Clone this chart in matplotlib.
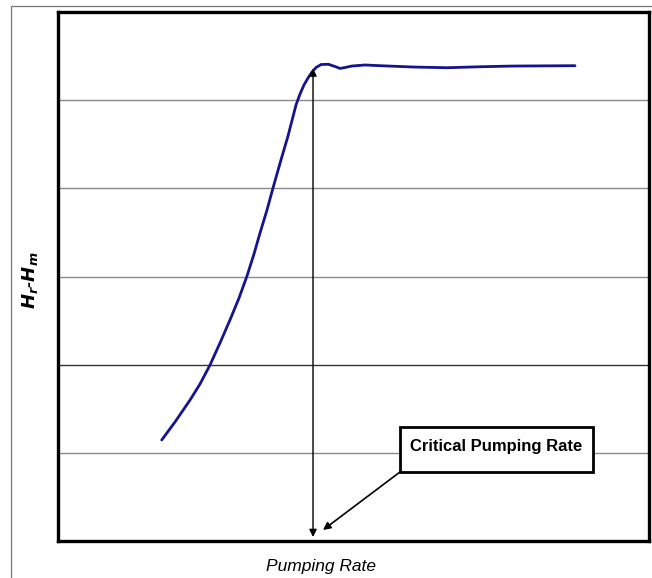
import matplotlib
matplotlib.use("Agg")
import matplotlib.pyplot as plt
from matplotlib.patches import Rectangle
from matplotlib import font_manager

# Data (arbitrary units; x: pumping rate 0-100, y: Hr-Hm 0-6)
curve_x = [17.55, 19.80, 22.34, 24.03, 25.72, 27.41, 29.10, 30.63, 31.98, 33.16,
           34.18, 35.36, 36.38, 37.73, 38.92, 40.27, 40.95, 41.62, 42.30, 42.98,
           43.66, 44.50, 45.74, 46.87, 47.72, 48.56, 49.70, 51.95, 54.48, 60.07,
           65.82, 71.40, 76.99, 87.48]
curve_y = [1.146, 1.350, 1.599, 1.781, 1.996, 2.246, 2.507, 2.756, 3.006, 3.255,
           3.493, 3.754, 4.004, 4.323, 4.594, 4.945, 5.070, 5.172, 5.251, 5.319,
           5.370, 5.404, 5.407, 5.382, 5.360, 5.370, 5.387, 5.399, 5.391, 5.376,
           5.368, 5.379, 5.387, 5.391]
grid_levels = [1, 2, 3, 4, 5]
critical_x = 43.15
critical_top = 5.36
critical_bottom = 0.045
box_x0, box_x1 = 57.87, 90.52
box_y0, box_y1 = 0.783, 1.293
pointer_tip = (44.84, 0.125)
box_label = "Critical Pumping Rate"
x_label = "Pumping Rate"

names = {f.name for f in font_manager.fontManager.ttflist}
narrow = "Liberation Sans Narrow" if "Liberation Sans Narrow" in names else "Liberation Sans"

fig = plt.figure(figsize=(6.52, 5.78), dpi=100)
ax = fig.add_axes([58/652, 37/578, 591/652, 529/578])
ax.set_xlim(0, 100)
ax.set_ylim(0, 6)
ax.set_xticks([])
ax.set_yticks([])
for s in ax.spines.values():
    s.set_linewidth(2.4)
    s.set_color("black")

for g in grid_levels:
    ax.axhline(g, color="#333333" if g == 2 else "#8a8a8a", lw=1.0, zorder=1)

ax.plot(curve_x, curve_y, color="#14148c", lw=2.0, zorder=3,
        solid_capstyle="round", solid_joinstyle="round")

ax.annotate("", xy=(critical_x, critical_bottom), xytext=(critical_x, critical_top),
            arrowprops=dict(arrowstyle="<|-|>", color="black", lw=1.0,
                            mutation_scale=11, shrinkA=0, shrinkB=0), zorder=4)

ax.add_patch(Rectangle((box_x0, box_y0), box_x1 - box_x0, box_y1 - box_y0,
                       facecolor="white", edgecolor="black", lw=2.0, zorder=5))
ax.text((box_x0 + box_x1) / 2, (box_y0 + box_y1) / 2 + 0.03, box_label,
        ha="center", va="center", fontsize=12, fontweight="bold",
        family=narrow, zorder=6)

ax.annotate("", xy=pointer_tip, xytext=(box_x0, box_y0),
            arrowprops=dict(arrowstyle="-|>", color="black", lw=1.2,
                            mutation_scale=11, shrinkA=0, shrinkB=0), zorder=4)

fig.text(321/652, (578-567)/578, x_label, ha="center", va="center",
         fontsize=12.5, style="italic", family=narrow)
fig.text(30/652, (578-280)/578, r"$\mathbfit{H_r}$-$\mathbfit{H_m}$", rotation=90,
         ha="center", va="center", fontsize=13, style="italic", fontweight="bold",
         family="Liberation Sans")

# outer frame (left and top edges visible)
fig.add_artist(Rectangle((11/652, -0.1), 1.2, (578-6)/578 + 0.1,
                         transform=fig.transFigure, fill=False,
                         edgecolor="#777777", lw=0.9))

fig.savefig("out.png", dpi=100)
